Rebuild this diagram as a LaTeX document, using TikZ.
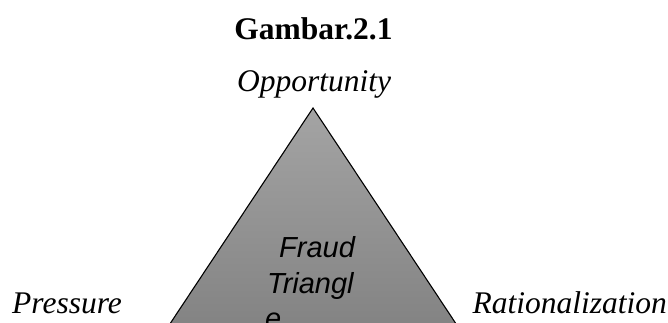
\documentclass[tikz,border=0pt]{standalone}
\usepackage{fontspec}
\setmainfont{Liberation Serif}
\newfontfamily\arialfont{Liberation Sans}
\definecolor{triTop}{HTML}{A4A4A4}
\definecolor{triBot}{HTML}{7E7E7E}
\tikzset{
  lbl/.style={inner sep=0pt, font=\fontsize{31.5}{36}\selectfont\itshape},
  ttl/.style={inner sep=0pt, font=\fontsize{31.5}{36}\selectfont\bfseries},
  inner/.style={inner sep=0pt, font=\arialfont\fontsize{29}{34}\selectfont\itshape},
}
\begin{document}
\begin{tikzpicture}[x=1pt,y=-1pt]
\useasboundingbox (0,0) rectangle (668,323);
\fill[white] (0,0) rectangle (668,323);
\begin{scope}
\clip (0,0) rectangle (668,323);
\shade[top color=triTop, bottom color=triBot] (313,108) -- (146,360) -- (480,360) -- cycle;
\draw[line width=1.1pt, line join=miter] (146,360) -- (313,108) -- (480,360);
\node[inner, anchor=base west] (fr1) at (279,257.5) {Fraud};
\node[inner, anchor=base west] (fr2) at (267,293) {Triangl};
\node[inner, anchor=base west] (fr3) at (265,328.5) {e};
\end{scope}
\node[ttl, anchor=base] (title) at (313.5,39.3) {Gambar.2.1};
\node[lbl, anchor=base] (opp) at (314,91.7) {Opportunity};
\node[lbl, anchor=base west] (pre) at (12,313.3) {Pressure};
\node[lbl, anchor=base east] (rat) at (667,313.3) {Rationalization};
\end{tikzpicture}
\end{document}
